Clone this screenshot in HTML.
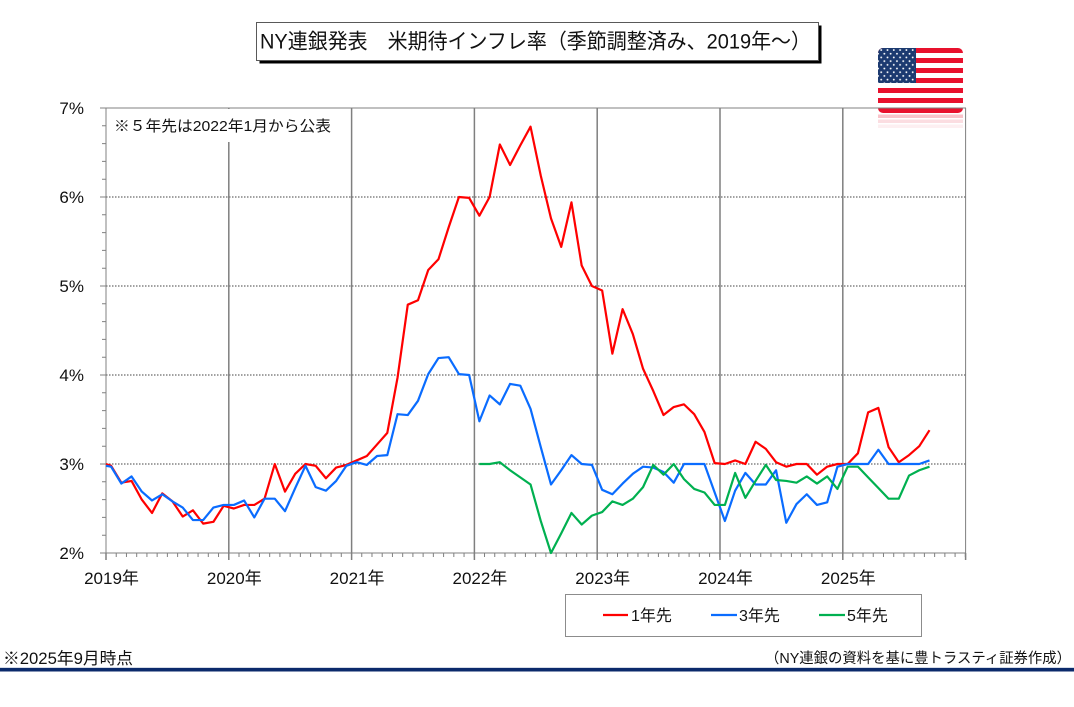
<!DOCTYPE html>
<html><head><meta charset="utf-8"><style>
html,body{margin:0;padding:0;background:#fff;}
svg{display:block;font-family:"Liberation Sans","Noto Sans CJK JP",sans-serif;}
</style></head><body>
<svg width="1074" height="707" viewBox="0 0 1074 707" xmlns="http://www.w3.org/2000/svg">
<defs>
<clipPath id="fc"><rect x="878" y="48" width="85" height="65" rx="5" ry="5"/></clipPath>
<pattern id="stars" x="878" y="48" width="6.3" height="7.4" patternUnits="userSpaceOnUse">
<circle cx="3.2" cy="2.0" r="0.95" fill="#fff"/>
<circle cx="0.05" cy="5.7" r="0.95" fill="#fff"/>
<circle cx="6.35" cy="5.7" r="0.95" fill="#fff"/>
</pattern>
</defs>
<rect x="0" y="0" width="1074" height="707" fill="#fff"/>

<!-- Title box -->
<rect x="259.5" y="25.5" width="562" height="38" fill="#000"/>
<rect x="256.5" y="22.5" width="562" height="38" fill="#fff" stroke="#595959" stroke-width="1"/>
<text x="260" y="48.5" font-size="21" fill="#111" textLength="551" lengthAdjust="spacingAndGlyphs">NY連銀発表　米期待インフレ率（季節調整済み、2019年～）</text>

<!-- Flag -->
<g clip-path="url(#fc)">
<rect x="878" y="48" width="85" height="65" fill="#fff"/>
<rect x="878" y="48" width="85" height="5" fill="#e8112d"/>
<rect x="878" y="58" width="85" height="5" fill="#e8112d"/>
<rect x="878" y="68" width="85" height="5" fill="#e8112d"/>
<rect x="878" y="78" width="85" height="5" fill="#e8112d"/>
<rect x="878" y="88" width="85" height="5" fill="#e8112d"/>
<rect x="878" y="98" width="85" height="5" fill="#e8112d"/>
<rect x="878" y="108" width="85" height="5" fill="#e8112d"/>
<rect x="878" y="48" width="38" height="35" fill="#1c3a70"/>
<rect x="878" y="48" width="37" height="35" fill="url(#stars)"/>
</g>
<rect x="878" y="114.5" width="85" height="3.5" fill="#f6a9b4" opacity="0.7"/>
<rect x="878" y="119.5" width="85" height="3.5" fill="#f9c6cd" opacity="0.6"/>
<rect x="878" y="124.5" width="85" height="3.5" fill="#fcdfe3" opacity="0.5"/>

<!-- horizontal dotted grid -->
<g stroke="#444" stroke-width="1" stroke-dasharray="1.5,1.5">
<line x1="106" y1="197" x2="966" y2="197"/>
<line x1="106" y1="286" x2="966" y2="286"/>
<line x1="106" y1="375" x2="966" y2="375"/>
<line x1="106" y1="464" x2="966" y2="464"/>
</g>

<!-- vertical year lines -->
<g stroke="#7f7f7f" stroke-width="1.5">
<line x1="228.8" y1="108" x2="228.8" y2="560"/>
<line x1="351.6" y1="108" x2="351.6" y2="560"/>
<line x1="474.4" y1="108" x2="474.4" y2="560"/>
<line x1="597.2" y1="108" x2="597.2" y2="560"/>
<line x1="720" y1="108" x2="720" y2="560"/>
<line x1="842.8" y1="108" x2="842.8" y2="560"/>
<line x1="106" y1="553" x2="106" y2="560"/>
<line x1="965.6" y1="553" x2="965.6" y2="560"/>
</g>

<!-- borders & axes -->
<g stroke="#808080" stroke-width="1">
<line x1="100" y1="108" x2="966" y2="108"/>
<line x1="965.6" y1="108" x2="965.6" y2="553"/>
<line x1="106" y1="108" x2="106" y2="553"/>
<line x1="100" y1="553" x2="966" y2="553"/>
<line x1="100" y1="197" x2="106" y2="197"/>
<line x1="100" y1="286" x2="106" y2="286"/>
<line x1="100" y1="375" x2="106" y2="375"/>
<line x1="100" y1="464" x2="106" y2="464"/>
</g>
<!-- minor ticks -->
<line x1="104" y1="107.5" x2="104" y2="553" stroke="#808080" stroke-width="4" stroke-dasharray="1 16.8"/>
<line x1="105.5" y1="555" x2="966.6" y2="555" stroke="#808080" stroke-width="4" stroke-dasharray="1 9.23"/>

<!-- note -->
<rect x="107" y="109" width="238" height="33" fill="#fff"/>
<text x="114" y="131" font-size="15" fill="#111" textLength="217" lengthAdjust="spacingAndGlyphs">※５年先は2022年1月から公表</text>

<!-- series -->
<g transform="translate(111.1,553) scale(10.23,-89)" fill="none" stroke-width="2.2" stroke-linejoin="round">
<polyline vector-effect="non-scaling-stroke" stroke="#ff0000" points="-0.5,1.00 0,0.98 1,0.79 2,0.81 3,0.60 4,0.45 5,0.67 6,0.58 7,0.41 8,0.48 9,0.33 10,0.35 11,0.53 12,0.50 13,0.54 14,0.54 15,0.61 16,1.00 17,0.69 18,0.89 19,1.00 20,0.98 21,0.84 22,0.96 23,0.99 24,1.04 25,1.09 26,1.22 27,1.35 28,1.97 29,2.79 30,2.84 31,3.18 32,3.30 33,3.66 34,4.00 35,3.99 36,3.79 37,4.00 38,4.59 39,4.36 40,4.58 41,4.79 42,4.24 43,3.76 44,3.44 45,3.94 46,3.23 47,3.00 48,2.95 49,2.24 50,2.74 51,2.46 52,2.07 53,1.82 54,1.55 55,1.64 56,1.67 57,1.56 58,1.36 59,1.01 60,1.00 61,1.04 62,1.00 63,1.25 64,1.17 65,1.02 66,0.97 67,1.00 68,1.00 69,0.88 70,0.97 71,1.00 72,1.00 73,1.12 74,1.58 75,1.63 76,1.19 77,1.02 78,1.10 79,1.20 80,1.38"/>
<polyline vector-effect="non-scaling-stroke" stroke="#0a6cff" points="-0.5,0.98 0,0.97 1,0.78 2,0.86 3,0.69 4,0.59 5,0.66 6,0.58 7,0.51 8,0.37 9,0.37 10,0.51 11,0.54 12,0.54 13,0.59 14,0.40 15,0.61 16,0.61 17,0.47 18,0.73 19,0.98 20,0.74 21,0.70 22,0.81 23,0.98 24,1.02 25,0.99 26,1.09 27,1.10 28,1.56 29,1.55 30,1.71 31,2.01 32,2.19 33,2.20 34,2.01 35,2.00 36,1.48 37,1.77 38,1.67 39,1.90 40,1.88 41,1.62 42,1.19 43,0.77 44,0.93 45,1.10 46,1.00 47,0.99 48,0.71 49,0.66 50,0.78 51,0.89 52,0.97 53,0.96 54,0.91 55,0.79 56,1.00 57,1.00 58,1.00 59,0.68 60,0.36 61,0.70 62,0.90 63,0.77 64,0.77 65,0.93 66,0.34 67,0.55 68,0.66 69,0.54 70,0.57 71,0.97 72,1.00 73,1.00 74,1.00 75,1.16 76,1.00 77,1.00 78,1.00 79,1.00 80,1.04"/>
<polyline vector-effect="non-scaling-stroke" stroke="#00b050" points="36,1.00 37,1.00 38,1.02 39,0.93 40,0.85 41,0.77 42,0.36 43,0.00 44,0.22 45,0.45 46,0.32 47,0.42 48,0.46 49,0.58 50,0.54 51,0.61 52,0.74 53,0.99 54,0.88 55,1.00 56,0.83 57,0.72 58,0.68 59,0.54 60,0.54 61,0.90 62,0.62 63,0.81 64,0.99 65,0.82 66,0.81 67,0.79 68,0.86 69,0.78 70,0.86 71,0.72 72,0.97 73,0.97 74,0.85 75,0.73 76,0.61 77,0.61 78,0.87 79,0.93 80,0.97"/>
</g>

<!-- y labels -->
<g font-size="17" fill="#111" text-anchor="end">
<text x="84" y="114">7%</text>
<text x="84" y="203">6%</text>
<text x="84" y="292">5%</text>
<text x="84" y="381">4%</text>
<text x="84" y="470">3%</text>
<text x="84" y="559">2%</text>
</g>

<!-- x labels -->
<g font-size="17" fill="#111" text-anchor="middle">
<text x="111.5" y="584">2019年</text>
<text x="234.3" y="584">2020年</text>
<text x="357.1" y="584">2021年</text>
<text x="479.9" y="584">2022年</text>
<text x="602.7" y="584">2023年</text>
<text x="725.5" y="584">2024年</text>
<text x="848.3" y="584">2025年</text>
</g>

<!-- legend -->
<rect x="565.5" y="594.5" width="356" height="42" fill="#fff" stroke="#8c8c8c" stroke-width="1"/>
<line x1="603" y1="615" x2="628" y2="615" stroke="#ff0000" stroke-width="2.2"/>
<line x1="711" y1="615" x2="737" y2="615" stroke="#0a6cff" stroke-width="2.2"/>
<line x1="819" y1="615" x2="845" y2="615" stroke="#00b050" stroke-width="2.2"/>
<g font-size="16" fill="#111">
<text x="631" y="621">1年先</text>
<text x="739" y="621">3年先</text>
<text x="847" y="621">5年先</text>
</g>

<!-- footer -->
<text x="3" y="664" font-size="16.5" fill="#111" textLength="130" lengthAdjust="spacingAndGlyphs">※2025年9月時点</text>
<text x="765" y="663" font-size="14.5" fill="#111" textLength="306" lengthAdjust="spacingAndGlyphs">（NY連銀の資料を基に豊トラスティ証券作成）</text>
<rect x="0" y="667" width="1074" height="1" fill="#d5dbe6"/>
<rect x="0" y="668" width="1074" height="3.5" fill="#0b2a6b"/>
</svg>
</body></html>
